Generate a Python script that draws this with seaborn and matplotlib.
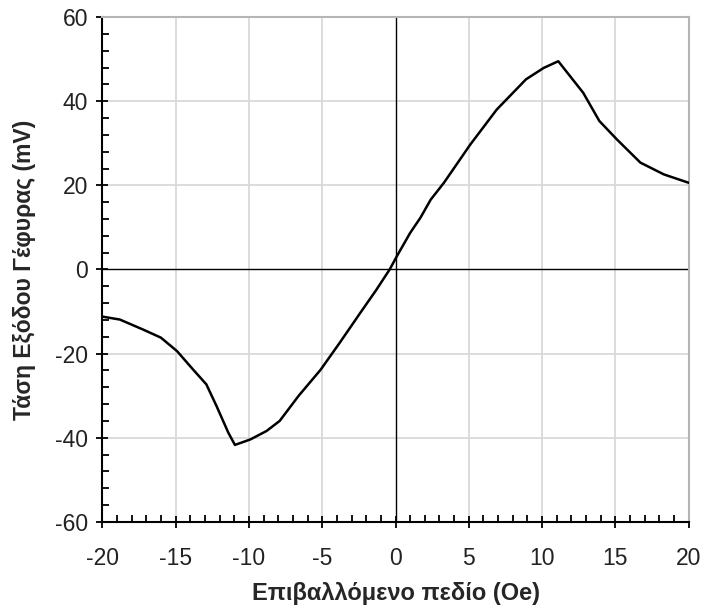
import numpy as np
import pandas as pd
import seaborn as sns
import matplotlib.pyplot as plt
from matplotlib.ticker import MultipleLocator

# Επιβαλλόμενο πεδίο (Oe) και τάση εξόδου γέφυρας (mV), διαβασμένα από το γράφημα
field_oe = [-20.0, -18.8, -17.2, -16.0, -14.9, -13.8, -12.9, -12.2, -11.4, -10.95,
            -9.9, -8.8, -7.9, -6.6, -5.1, -3.8, -2.4, -1.3, -0.4, 0.1, 1.0, 1.7,
            2.4, 3.3, 5.1, 6.9, 8.9, 10.1, 11.1, 12.8, 13.9, 15.1, 16.7, 18.3, 20.0]
bridge_mv = [-11.2, -11.9, -14.3, -16.2, -19.4, -23.8, -27.3, -32.5, -38.8, -41.7,
             -40.4, -38.4, -36.0, -30.0, -23.8, -17.4, -10.3, -4.8, 0.0, 3.2, 8.7, 12.3,
             16.6, 20.6, 29.7, 38.0, 45.2, 47.9, 49.5, 42.0, 35.3, 30.9, 25.4, 22.6, 20.6]

x_ticks = [-20, -15, -10, -5, 0, 5, 10, 15, 20]
y_ticks = [-60, -40, -20, 0, 20, 40, 60]

df = pd.DataFrame({'field': field_oe, 'voltage': bridge_mv})

sns.set_style('white')
plt.rcParams['font.family'] = ['Liberation Sans', 'DejaVu Sans']
plt.rcParams['axes.unicode_minus'] = False

fig, ax = plt.subplots(figsize=(7.05, 6.09), dpi=100)
fig.subplots_adjust(left=0.145, right=0.977, top=0.972, bottom=0.143)

# Πλέγμα και άξονες μηδέν
for v in x_ticks[1:-1]:
    if v != 0:
        ax.axvline(v, color='#d9d9d9', lw=1.3, zorder=0)
for v in y_ticks[1:-1]:
    if v != 0:
        ax.axhline(v, color='#d9d9d9', lw=1.3, zorder=0)
ax.axvline(0, color='black', lw=1.0, zorder=1)
ax.axhline(0, color='black', lw=1.0, zorder=1)

sns.lineplot(data=df, x='field', y='voltage', color='black', lw=1.8, ax=ax, zorder=3)

ax.set_xlim(-20, 20)
ax.set_ylim(-60, 60)
ax.set_xticks(x_ticks)
ax.set_yticks(y_ticks)
ax.xaxis.set_minor_locator(MultipleLocator(1))
ax.yaxis.set_minor_locator(MultipleLocator(4))

ax.tick_params(which='major', direction='inout', length=8, width=1.3, color='black',
               labelsize=16.5, labelcolor='#222222')
ax.tick_params(axis='x', which='major', pad=14)
ax.tick_params(axis='y', which='major', pad=6)
ax.tick_params(which='minor', direction='in', length=5, width=1.3, color='black')
ax.tick_params(top=False, right=False, which='both')
ax.tick_params(bottom=True, left=True, which='both')

for side in ['left', 'bottom']:
    ax.spines[side].set_color('black')
    ax.spines[side].set_linewidth(1.5)
for side in ['top', 'right']:
    ax.spines[side].set_color('#b5b5b5')
    ax.spines[side].set_linewidth(1.5)

ax.set_xlabel('Επιβαλλόμενο πεδίο (Oe)', fontsize=17, fontweight='bold', labelpad=9)
ax.set_ylabel('Τάση Εξόδου Γέφυρας (mV)', fontsize=16.5, fontweight='bold', labelpad=14)

fig.savefig('out.png', dpi=100)
